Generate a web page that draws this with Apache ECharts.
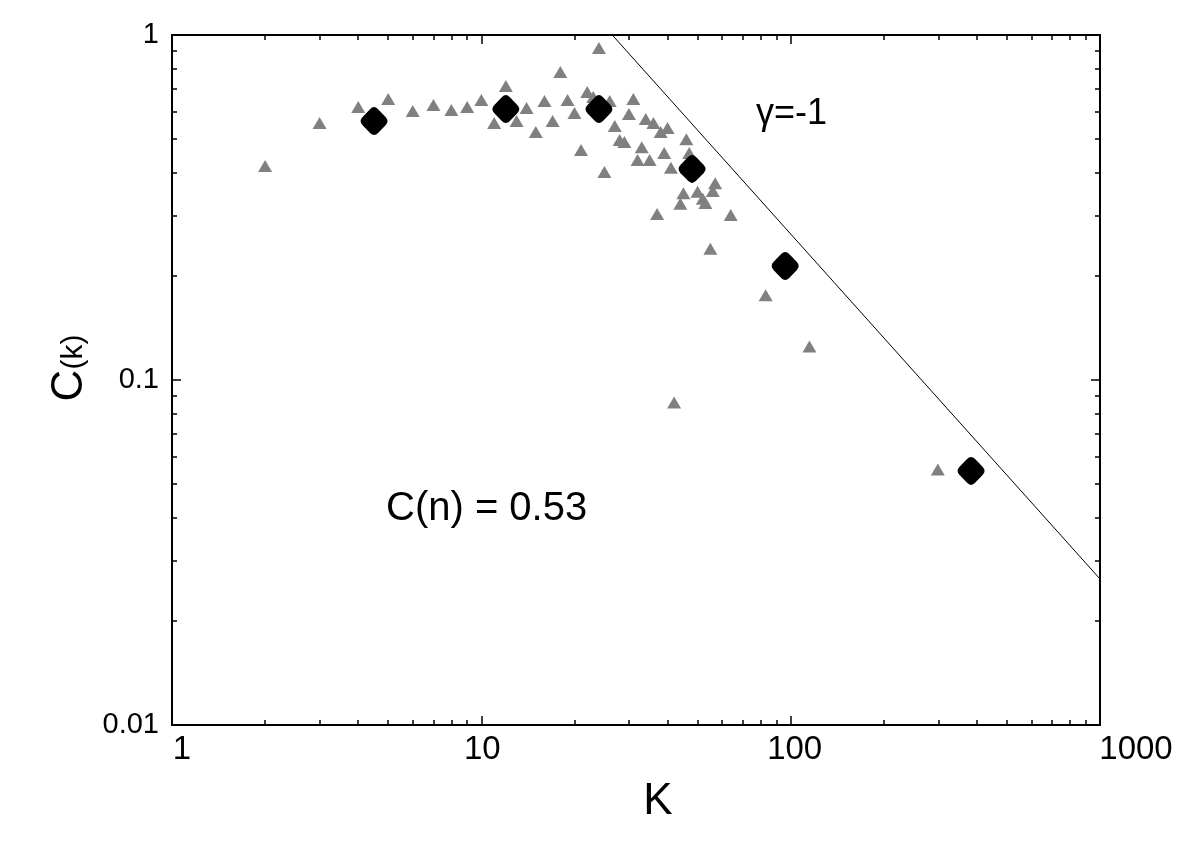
<!DOCTYPE html>
<html><head><meta charset="utf-8">
<script src="https://cdn.jsdelivr.net/npm/echarts@6/dist/echarts.min.js"></script>
<style>html,body{margin:0;padding:0;background:#fff}#c{width:1200px;height:848px}</style>
</head><body><div id="c"></div>
<script>
// ---- data ----
const triK = [2,3,4,5,6,7,8,9,10,11,12,13,14,15,16,17,18,19,20,21,22,24,25,26,27,28,29,30,31,33,32,35,34,36,38,40,39,41,46,47,57,56,45,50,52,53,44,37,64,55,83,115,42,299,23];
const triC = [0.417,0.556,0.618,0.652,0.602,0.627,0.606,0.618,0.648,0.556,0.711,0.563,0.614,0.523,0.644,0.563,0.781,0.648,0.594,0.464,0.684,0.917,0.401,0.644,0.545,0.496,0.490,0.590,0.652,0.473,0.434,0.434,0.571,0.556,0.523,0.538,0.455,0.412,0.499,0.455,0.372,0.353,0.348,0.351,0.335,0.326,0.324,0.303,0.301,0.240,0.176,0.125,0.086,0.055,0.661];
const avgK = [4.5, 12, 24, 48, 96, 383];
const avgC = [0.563, 0.61, 0.61, 0.409, 0.214, 0.0545];
const fitK = [26.5, 1000];
const fitC = [1, 0.0265];
const xTickLabels = ['1','10','100','1000'];
const yTickLabels = ['0.01','0.1','1'];
const xMinor = [2,3,4,5,6,7,8,9,20,30,40,50,60,70,80,90,200,300,400,500,600,700,800,900];
const yMinor = [0.02,0.03,0.04,0.05,0.06,0.07,0.08,0.09,0.2,0.3,0.4,0.5,0.6,0.7,0.8,0.9];
const gammaText = 'γ=-1';
const cnText = 'C(n) = 0.53';

// ---- chart ----
const F = 'Liberation Sans, Arial, sans-serif';
const roundDiamond = 'path://M36,10 Q50,-4 64,10 L90,36 Q104,50 90,64 L64,90 Q50,104 36,90 L10,64 Q-4,50 10,36 Z';
const chart = echarts.init(document.getElementById('c'), null, {renderer:'canvas'});
const lineS = {color:'#000', width:2};
function xAx(pos, extra){ return Object.assign({
  type:'log', logBase:10, min:1, max:1000, position:pos, gridIndex:0,
  axisLine:{show:true, onZero:false, lineStyle:lineS},
  axisTick:{show:true, inside:true, length:9, lineStyle:{color:'#000', width:1.5}},
  axisLabel:{show:false}, splitLine:{show:false}, minorTick:{show:false}, minorSplitLine:{show:false}
}, extra||{}); }
function yAx(pos, extra){ return Object.assign({
  type:'log', logBase:10, min:0.01, max:1, position:pos, gridIndex:0,
  axisLine:{show:true, onZero:false, lineStyle:lineS},
  axisTick:{show:true, inside:true, length:9, lineStyle:{color:'#000', width:1.5}},
  axisLabel:{show:false}, splitLine:{show:false}, minorTick:{show:false}, minorSplitLine:{show:false}
}, extra||{}); }
const minorTick = vals => ({show:true, inside:true, length:5, customValues:vals, lineStyle:{color:'#000', width:1.5}});
const xl = {fontSize:33, fontFamily:F, color:'#000'};

const option = {
  backgroundColor:'#fff',
  animation:false,
  grid:{left:172, top:35, width:928, height:690, containLabel:false},
  xAxis:[
    xAx('bottom', {
      axisLabel:{show:true, color:'#000', fontSize:33, fontFamily:F, margin:8,
        formatter: v => { const i = Math.round(Math.log10(v)); return '{p' + i + '|' + xTickLabels[i] + '}'; },
        rich:{
          p0:Object.assign({padding:[0,0,0,20]}, xl),
          p1:Object.assign({padding:[0,0,0,2]}, xl),
          p2:Object.assign({padding:[0,0,0,8]}, xl),
          p3:Object.assign({padding:[0,0,0,72]}, xl)
        }},
      name:'K', nameLocation:'middle', nameGap:55,
      nameTextStyle:{color:'#000', fontSize:44, fontFamily:F, padding:[0,0,0,44]}
    }),
    xAx('top'),
    xAx('bottom', {axisLine:{show:false}, axisTick:minorTick(xMinor)}),
    xAx('top', {axisLine:{show:false}, axisTick:minorTick(xMinor)})
  ],
  yAxis:[
    yAx('left', {
      axisLabel:{show:true, color:'#000', fontSize:29, fontFamily:F, margin:13,
        formatter: v => yTickLabels[Math.round(Math.log10(v)) + 2]},
      name:'{a|C}{b|(k)}', nameLocation:'middle', nameGap:70, nameRotate:90,
      nameTextStyle:{color:'#000', fontFamily:F, padding:[0,0,0,24],
        rich:{a:{fontSize:44, fontFamily:F, color:'#000'}, b:{fontSize:30, fontFamily:F, color:'#000', padding:[8,0,0,0]}}}
    }),
    yAx('right'),
    yAx('left', {axisLine:{show:false}, axisTick:minorTick(yMinor)}),
    yAx('right', {axisLine:{show:false}, axisTick:minorTick(yMinor)})
  ],
  series:[
    {type:'line', name:'fit', xAxisIndex:0, yAxisIndex:0, silent:true,
     data: fitK.map((k,i)=>[k, fitC[i]]), symbol:'none', clip:true,
     lineStyle:{color:'#000', width:1}, z:2},
    {type:'scatter', name:'C(k)', xAxisIndex:0, yAxisIndex:0,
     data: triK.map((k,i)=>[k, triC[i]]), symbol:'triangle', symbolSize:[14,12],
     itemStyle:{color:'#808080', opacity:1}, z:3},
    {type:'scatter', name:'avg', xAxisIndex:0, yAxisIndex:0,
     data: avgK.map((k,i)=>[k, avgC[i]]), symbol:roundDiamond, symbolSize:[27,28],
     itemStyle:{color:'#000', opacity:1}, z:4}
  ],
  graphic:[
    {type:'text', left:756, top:96, style:{text:gammaText, fill:'#000', font:'36px Liberation Sans, Arial, sans-serif'}},
    {type:'text', left:386, top:489, style:{text:cnText, fill:'#000', font:'40px Liberation Sans, Arial, sans-serif'}}
  ]
};
chart.setOption(option);
</script>
</body></html>
